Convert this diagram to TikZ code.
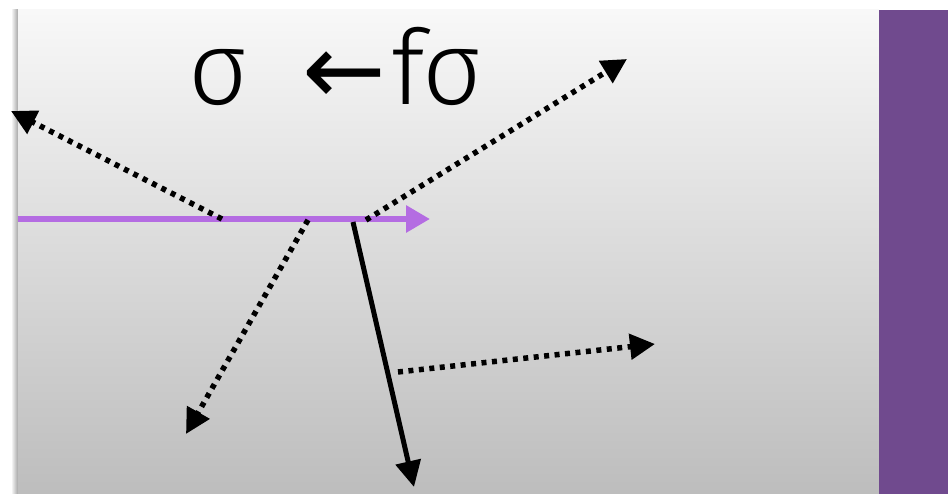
\documentclass[tikz,border=0pt]{standalone}
\usepackage{fontspec}
\setmainfont{DejaVu Sans}
\newfontfamily\thinfont{Fira Sans}[UprightFont={* Light}]
\newfontfamily\arrowfont{DejaVu Sans}
\usetikzlibrary{arrows.meta}
\definecolor{panelpurple}{RGB}{112,74,142}
\definecolor{raypurple}{RGB}{180,108,226}
\definecolor{paneltop}{RGB}{248,248,248}
\definecolor{panelbot}{RGB}{189,189,189}
\tikzset{
  dotarrow/.style={line width=5.5pt, dash pattern=on 5pt off 5.5pt, -{Triangle[length=25pt,width=25pt]}},
  solidarrow/.style={line width=5pt, -{Triangle[length=26pt,width=25pt]}},
  rayarrow/.style={line width=6pt, raypurple, -{Triangle[length=24pt,width=26pt]}},
}
\begin{document}
\begin{tikzpicture}[x=1pt,y=-1pt]
\useasboundingbox (0,0) rectangle (948,494);
\fill[white] (0,0) rectangle (948,494);
\shade[left color=white, right color=black!35] (11,10) rectangle (18,494);
\shade[top color=paneltop, bottom color=panelbot] (18,10) rectangle (879,494);
\fill[panelpurple] (879,10) rectangle (948,494);
\node[anchor=base west, inner sep=0pt, font=\thinfont\fontsize{104}{110}\selectfont] (title) at (188,105) {σ\hspace{0.52em}{\arrowfont\fontsize{100}{100}\selectfont ←}\kern5pt f\kern-2pt σ};
\coordinate (rayS) at (18,219);
\coordinate (rayE) at (430,219);
\draw[rayarrow] (rayS) -- (rayE);
\coordinate (p1) at (222,219);
\coordinate (p2) at (308,220);
\coordinate (p3) at (366,220);
\coordinate (p4) at (353,222);
\coordinate (p5) at (398,372);
\coordinate (t1) at (11,111);
\coordinate (t2) at (627,59);
\coordinate (t3) at (186,434);
\coordinate (t4) at (414,487);
\coordinate (t5) at (655,344);
\draw[dotarrow] (p1) -- (t1);
\draw[dotarrow] (p3) -- (t2);
\draw[dotarrow] (p2) -- (t3);
\draw[solidarrow] (p4) -- (t4);
\draw[dotarrow] (p5) -- (t5);
\end{tikzpicture}
\end{document}
